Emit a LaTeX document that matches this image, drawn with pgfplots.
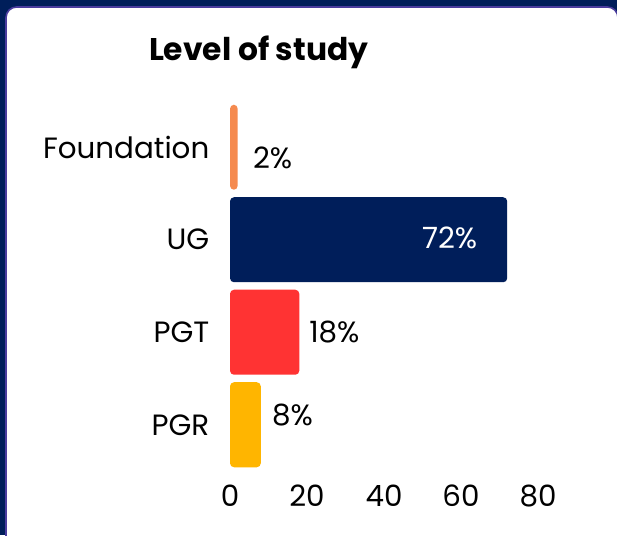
\documentclass[border=0pt]{standalone}
\usepackage{fontspec}
\setmainfont{Poppins}
\usepackage{pgfplots}
\pgfplotsset{compat=1.18}
\definecolor{navy}{HTML}{001E5A}
\definecolor{edge}{HTML}{4A3C9E}
\definecolor{cfound}{HTML}{F58A4F}
\definecolor{cred}{HTML}{FF3333}
\definecolor{camber}{HTML}{FFB500}
\begin{document}
\begin{tikzpicture}
\useasboundingbox (0,0) rectangle (462.75pt,401.25pt);
\begin{scope}
\clip (0,0) rectangle (462.75pt,401.25pt);
\fill[navy] (0,0) rectangle (462.75pt,401.25pt);
\filldraw[fill=white,draw=edge,line width=1.2pt,rounded corners=8pt] (4.5pt,-20pt) rectangle (463.5pt,396pt);
\end{scope}
\node[font=\fontsize{23.5}{28}\selectfont\bfseries] at (194pt,362pt) {Level of study};
\begin{axis}[
  at={(172.5pt,48pt)}, anchor=south west,
  scale only axis, width=231pt, height=277.5pt,
  xmin=0, xmax=80, ymin=-0.5, ymax=3.5,
  xbar, bar width=63.75pt, bar shift=0pt,
  axis line style={draw=none},
  major tick length=0pt,
  xtick={0,20,40,60,80},
  ytick={0,1,2,3},
  yticklabels={PGR,PGT,UG,Foundation},
  tick label style={font=\fontsize{22}{26}\selectfont},
  /pgf/number format/assume math mode=true,
  yticklabel style={xshift=-12pt},
  xticklabel style={yshift=-7pt},
  clip=false,
]
\addplot[fill=camber, draw=none, rounded corners=3pt] coordinates {(8,0)};
\addplot[fill=cred, draw=none, rounded corners=3pt] coordinates {(18,1)};
\addplot[fill=navy, draw=none, rounded corners=3pt] coordinates {(72,2)};
\addplot[fill=cfound, draw=none, rounded corners=3pt] coordinates {(2,3)};
\node[anchor=west,font=\fontsize{22}{26}\selectfont,xshift=8pt,yshift=-8pt] at (axis cs:2,3) {2\%};
\node[anchor=east,font=\fontsize{22}{26}\selectfont,xshift=-19pt,text=white,yshift=1.5pt] at (axis cs:72,2) {72\%};
\node[anchor=west,font=\fontsize{22}{26}\selectfont,xshift=4pt] at (axis cs:18,1) {18\%};
\node[anchor=west,font=\fontsize{22}{26}\selectfont,xshift=5pt,yshift=7.5pt] at (axis cs:8,0) {8\%};
\end{axis}
\end{tikzpicture}
\end{document}
